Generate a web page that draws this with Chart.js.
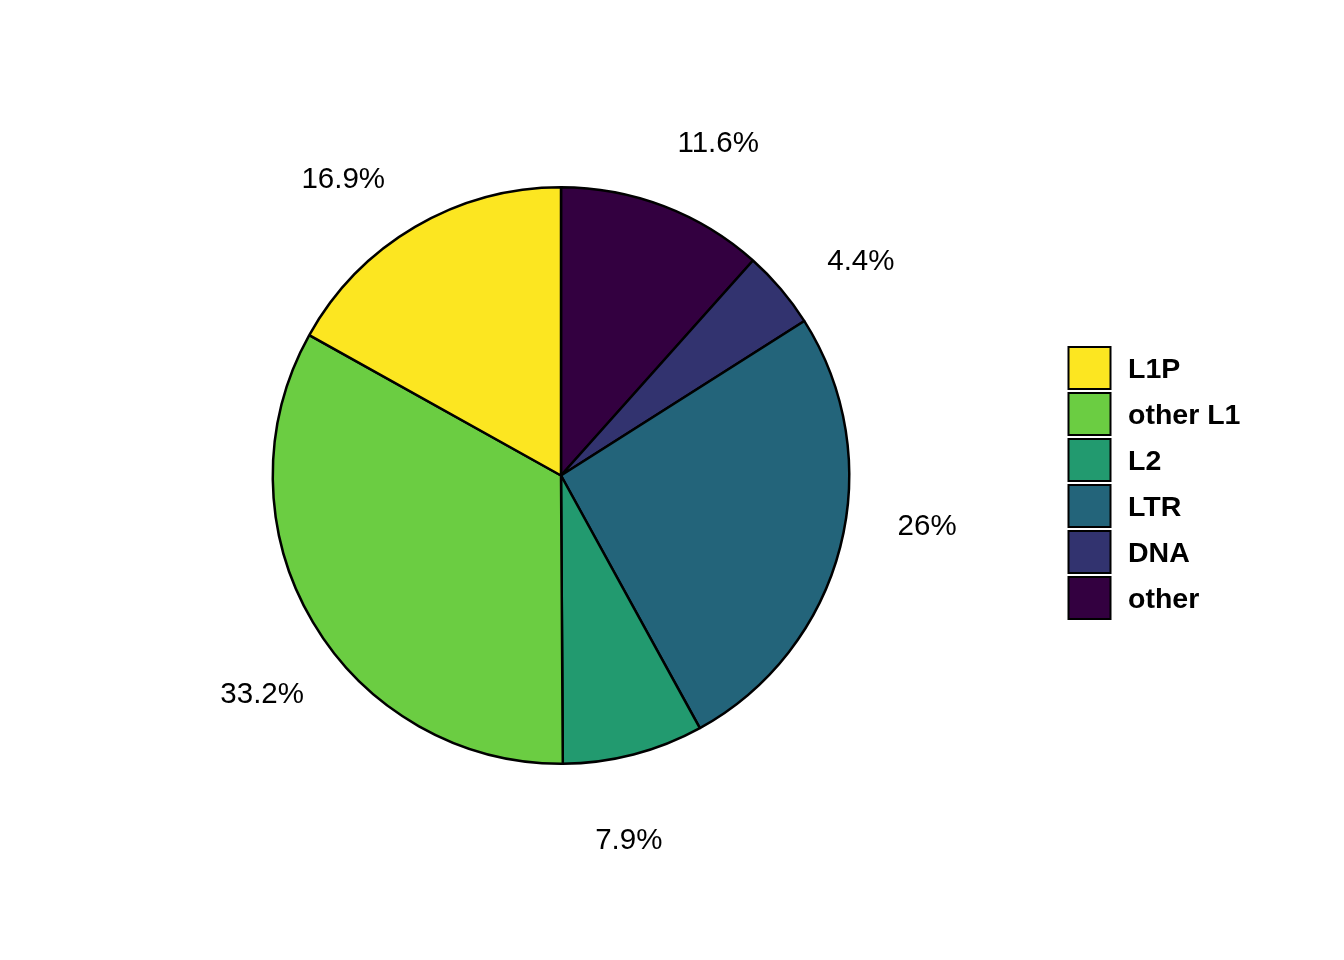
<!DOCTYPE html>
<html>
<head>
<meta charset="utf-8">
<script src="https://cdn.jsdelivr.net/npm/chart.js@4.4.1/dist/chart.umd.min.js"></script>
<style>
  html, body { margin: 0; padding: 0; background: #ffffff; }
  #wrap { width: 1344px; height: 960px; position: relative; }
</style>
</head>
<body>
<div id="wrap"><canvas id="c"></canvas></div>
<script>
// Data (clockwise from 12 o'clock)
const categories = ["other", "DNA", "LTR", "L2", "other L1", "L1P"];
const percentValues = [11.6, 4.4, 26, 7.9, 33.2, 16.9];
const percentLabels = ["11.6%", "4.4%", "26%", "7.9%", "33.2%", "16.9%"];
const sliceColors = ["#330040", "#32336F", "#23647A", "#229A6F", "#6BCD42", "#FCE621"];

const FONT = "'Liberation Sans', Arial, Helvetica, sans-serif";

const overlayPlugin = {
  id: 'overlay',
  afterDraw(chart, args, opts) {
    const ctx = chart.ctx;
    const meta = chart.getDatasetMeta(0);
    // percentage labels outside the slices
    ctx.save();
    ctx.fillStyle = '#000000';
    ctx.font = '29.5px ' + FONT;
    ctx.textAlign = 'center';
    ctx.textBaseline = 'middle';
    meta.data.forEach((arc, i) => {
      const p = arc.getProps(['x', 'y', 'startAngle', 'endAngle', 'outerRadius'], true);
      const mid = (p.startAngle + p.endAngle) / 2 + (opts.labelShiftDeg[i] || 0) * Math.PI / 180;
      const r = (p.outerRadius + 1) * opts.labelRadiusFactor;
      ctx.fillText(percentLabels[i], p.x + Math.cos(mid) * r, p.y + Math.sin(mid) * r + 2.5);
    });
    ctx.restore();

    // legend (reverse order of drawing)
    ctx.save();
    const L = opts.legend;
    const order = categories.map((_, i) => i).reverse();
    order.forEach((idx, k) => {
      const top = L.top + k * L.stride;
      ctx.fillStyle = sliceColors[idx];
      ctx.fillRect(L.x, top, L.box, L.box);
      ctx.strokeStyle = '#000000';
      ctx.lineWidth = 2;
      ctx.strokeRect(L.x, top, L.box, L.box);
      ctx.fillStyle = '#000000';
      ctx.font = 'bold 28.5px ' + FONT;
      ctx.textAlign = 'left';
      ctx.textBaseline = 'middle';
      ctx.fillText(categories[idx], L.textX, top + L.box / 2 + 2);
    });
    ctx.restore();
  }
};

new Chart(document.getElementById('c'), {
  type: 'pie',
  data: {
    labels: categories,
    datasets: [{
      data: percentValues,
      backgroundColor: sliceColors,
      borderColor: '#000000',
      borderWidth: 2.5
    }]
  },
  options: {
    responsive: true,
    maintainAspectRatio: false,
    animation: false,
    layout: { padding: { left: 271.5, right: 493.5, top: 186, bottom: 195 } },
    plugins: {
      legend: { display: false },
      tooltip: { enabled: false },
      overlay: {
        labelRadiusFactor: 1.277,
        labelShiftDeg: [4.3, 4.6, -6.8, 4.0, -5.4, -5.7],
        legend: { x: 1068.5, top: 347, box: 42, stride: 46, textX: 1128 }
      }
    }
  },
  plugins: [overlayPlugin]
});
</script>
</body>
</html>
